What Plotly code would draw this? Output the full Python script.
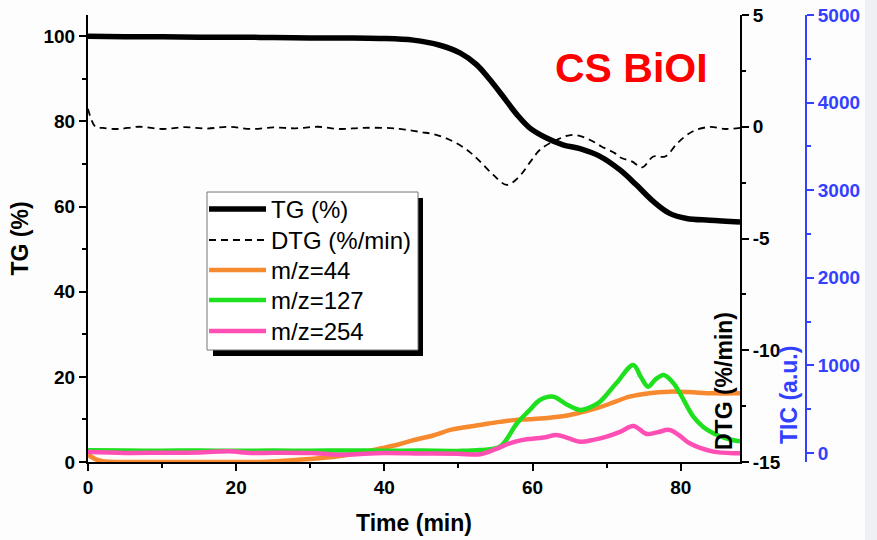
import plotly.graph_objects as go

# ---------------- data ----------------
t_tg = [0, 5, 10, 15, 20, 25, 30, 35, 39.4, 43.9, 47.5, 50.2, 52.4, 54.2, 56.0, 57.9, 59.6, 61.9,
        64.1, 66.4, 69.1, 71.8, 74.0, 76.3, 78.5, 80.8, 83.9, 88]
tg = [100, 99.9, 99.9, 99.8, 99.8, 99.7, 99.6, 99.6, 99.5, 99.1, 97.9, 96.1, 93.4, 89.9, 85.9, 81.6,
      78.5, 76.1, 74.5, 73.6, 71.8, 68.6, 65.1, 61.2, 58.4, 57.2, 56.8, 56.4]

t_dtg = [0, 1, 2, 4, 7, 10, 13, 16, 19, 22, 25, 28, 31, 34, 37, 40.8, 42.8, 45, 47, 49.3, 51.3,
         52.9, 54.7, 56.5, 58.0, 59.9, 61.0, 63.3, 65.5, 67.7, 69.3, 71.1, 72, 73.4, 74.8, 76.3,
         77.9, 79.6, 81.6, 83.9, 86, 88]
dtg = [0.8, 0.0, -0.05, -0.1, 0.0, -0.1, -0.02, -0.08, 0.0, -0.1, -0.03, -0.07, 0.0, -0.1, -0.05,
       -0.06, -0.13, -0.24, -0.36, -0.66, -1.07, -1.55, -2.15, -2.6, -2.3, -1.48, -1.03, -0.58,
       -0.36, -0.58, -0.88, -1.18, -1.4, -1.55, -1.82, -1.33, -1.33, -0.72, -0.21, -0.01, -0.1, -0.05]

t_44 = [0, 1, 2, 5, 10, 15, 20, 24, 28, 33, 36, 39.8, 42, 44, 46.6, 48.9, 51.1, 52.9, 55.6, 57.5,
        59.6, 62, 64.5, 66.4, 69, 71, 73.1, 75.5, 78.5, 81, 84.4, 87.5, 88]
tic_44 = [-20, -70, -95, -103, -103, -103, -103, -100, -80, -46, -10, 57, 100, 148, 200, 263, 297,
          320, 355, 375, 385, 400, 425, 460, 520, 580, 643, 680, 700, 695, 681, 681, 683]

t_127 = [0, 5, 10, 15, 20, 25, 30, 35, 40, 45, 50, 52.9, 55.6, 57.9, 59.5, 61, 62.8, 64.5, 66.4,
         68, 69.1, 71.3, 73.6, 74.6, 75.6, 76.6, 77.7, 79, 79.9, 81.7, 83, 84.4, 86, 87.5, 88]
tic_127 = [30, 28, 26, 28, 25, 27, 26, 28, 26, 27, 24, 34, 72, 339, 480, 605, 643, 560, 491, 530,
           586, 795, 1005, 870, 757, 840, 890, 800, 681, 414, 300, 225, 170, 140, 135]

t_254 = [0, 5, 10, 15, 19, 22, 25, 30, 34, 40, 45, 50, 52.9, 54.9, 56.9, 58.7, 60.5, 61.8, 63.2,
         64.8, 66.4, 68.2, 70, 71.8, 73.6, 75.4, 76.8, 78.5, 79.8, 81.2, 84.4, 87.5, 88]
tic_254 = [10, 0, 3, 5, 20, 0, 3, 0, -20, 0, -5, -8, -15, 40, 110, 150, 168, 180, 205, 170, 129,
           150, 186, 240, 308, 217, 235, 263, 200, 110, 15, -3, -3]

x_ticks = [0, 20, 40, 60, 80]
tg_ticks = [0, 20, 40, 60, 80, 100]
dtg_ticks = [5, 0, -5, -10, -15]
tic_ticks = [0, 1000, 2000, 3000, 4000, 5000]

series_names = ["TG (%)", "DTG (%/min)", "m/z=44", "m/z=127", "m/z=254"]
series_colors = ["black", "black", "#f7892f", "#1ee01e", "#ff4fb5"]

# ---------------- layout constants ----------------
W, H = 877, 540
ML, MR, MT, MB = 88, 60, 15, 78
PW = W - ML - MR
PH = H - MT - MB
def px(x):
    return (x - ML) / PW
def py(y):
    return (H - MB - y) / PH

FONT = "Liberation Sans, Arial, sans-serif"
BLUE = "#3341ff"

fig = go.Figure()
fig.add_trace(go.Scatter(x=t_tg, y=tg, name=series_names[0], mode="lines",
                         line=dict(color=series_colors[0], width=5.5, shape="spline"), yaxis="y"))
fig.add_trace(go.Scatter(x=t_dtg, y=dtg, name=series_names[1], mode="lines",
                         line=dict(color=series_colors[1], width=1.8, dash="7px,5px", shape="spline"), yaxis="y2"))
fig.add_trace(go.Scatter(x=t_44, y=tic_44, name=series_names[2], mode="lines",
                         line=dict(color=series_colors[2], width=4.5, shape="spline"), yaxis="y3"))
fig.add_trace(go.Scatter(x=t_127, y=tic_127, name=series_names[3], mode="lines",
                         line=dict(color=series_colors[3], width=4.5, shape="spline"), yaxis="y3"))
fig.add_trace(go.Scatter(x=t_254, y=tic_254, name=series_names[4], mode="lines",
                         line=dict(color=series_colors[4], width=4.5, shape="spline"), yaxis="y3"))

tickfont = dict(family=FONT, size=19, color="black", weight=700)
titlefont = dict(family=FONT, size=23, color="black", weight=700)

# ---- legend box (drawn as shapes + text) ----
LX0, LX1, LY0, LY1 = 207, 418, 192, 350
shapes = [
    dict(type="rect", xref="paper", yref="paper", x0=px(LX0 + 6), x1=px(LX1 + 5), y0=py(LY1 + 6), y1=py(LY0 + 6),
         fillcolor="black", line=dict(width=0), layer="above"),
    dict(type="rect", xref="paper", yref="paper", x0=px(LX0), x1=px(LX1), y0=py(LY1), y1=py(LY0),
         fillcolor="white", line=dict(width=1, color="#777"), layer="above"),
    dict(type="rect", xref="paper", yref="paper", x0=px(865), x1=px(877), y0=py(540), y1=py(0),
         fillcolor="#eef0f5", line=dict(width=0), layer="below"),
]
annotations = []
row_y = [209, 240, 270, 300, 331]
leg_width = [5.5, 2, 4.5, 4.5, 4.5]
for i, name in enumerate(series_names):
    shapes.append(dict(type="line", xref="paper", yref="paper", x0=px(209), x1=px(266),
                       y0=py(row_y[i]), y1=py(row_y[i]),
                       line=dict(color=series_colors[i], width=leg_width[i],
                                 dash="7px,5px" if i == 1 else "solid"),
                       layer="above"))
    annotations.append(dict(text=name, x=px(269), y=py(row_y[i]), xref="paper", yref="paper",
                            xanchor="left", yanchor="middle", showarrow=False,
                            font=dict(family=FONT, size=24, color="black")))

annotations += [
    dict(text="CS BiOI", x=px(631), y=py(68), xref="paper", yref="paper", showarrow=False,
         xanchor="center", yanchor="middle",
         font=dict(family=FONT, size=41, color="#ff0000", weight=700)),
    dict(text="DTG (%/min)", x=px(724), y=py(381), xref="paper", yref="paper", showarrow=False,
         xanchor="center", yanchor="middle", textangle=-90, font=titlefont),
    dict(text="TIC (a.u.)", x=px(789), y=py(395), xref="paper", yref="paper", showarrow=False,
         xanchor="center", yanchor="middle", textangle=-90,
         font=dict(family=FONT, size=23, color=BLUE, weight=700)),
]

fig.update_layout(
    width=W, height=H,
    margin=dict(l=ML, r=MR, t=MT, b=MB, autoexpand=False),
    paper_bgcolor="#fdfdfd", plot_bgcolor="rgba(0,0,0,0)",
    font=dict(family=FONT, color="black"),
    showlegend=False,
    xaxis=dict(domain=[0, (740 - ML) / PW], range=[0, 88], showgrid=False, zeroline=False, automargin=False,
               showline=True, linecolor="black", linewidth=2, ticks="outside", ticklen=7, tickwidth=2,
               tickcolor="black", tickvals=x_ticks, tickfont=tickfont,
               minor=dict(ticks="outside", ticklen=4, tickwidth=2, tickcolor="black", dtick=10, tick0=0),
               title=dict(text="Time (min)", font=titlefont, standoff=18)),
    xaxis2=dict(overlaying="x", side="top", range=[0, 88], showgrid=False, zeroline=False, automargin=False,
                showline=True, linecolor="black", linewidth=2, ticks="inside", ticklen=7, tickwidth=2,
                tickcolor="black", tickvals=x_ticks, showticklabels=False,
                minor=dict(ticks="inside", ticklen=4, tickwidth=2, tickcolor="black", dtick=10, tick0=0)),
    yaxis=dict(range=[0, 105], showgrid=False, zeroline=False, showline=True, linecolor="black", linewidth=2,
               automargin=False,
               ticks="outside", ticklen=7, tickwidth=2, tickcolor="black", tickvals=tg_ticks, tickfont=tickfont,
               minor=dict(ticks="outside", ticklen=4, tickwidth=2, tickcolor="black", dtick=10, tick0=0),
               title=dict(text="TG (%)", font=titlefont, standoff=8)),
    yaxis2=dict(overlaying="y", side="right", anchor="x", range=[-15, 5], showgrid=False, zeroline=False,
                automargin=False,
                showline=True, linecolor="black", linewidth=2, ticks="outside", ticklen=7, tickwidth=2,
                tickcolor="black", tickvals=dtg_ticks, ticktext=[str(v) for v in dtg_ticks], tickfont=tickfont,
                minor=dict(ticks="outside", ticklen=4, tickwidth=2, tickcolor="black", dtick=2.5, tick0=0)),
    yaxis3=dict(overlaying="y", side="right", anchor="free", position=px(806), range=[-103, 5000],
                automargin=False,
                showgrid=False, zeroline=False, showline=True, linecolor=BLUE, linewidth=2,
                ticks="outside", ticklen=7, tickwidth=2, tickcolor=BLUE, tickvals=tic_ticks,
                tickfont=dict(family=FONT, size=19, color=BLUE, weight=700),
                minor=dict(ticks="outside", ticklen=4, tickwidth=2, tickcolor=BLUE, dtick=500, tick0=0)),
    shapes=shapes,
    annotations=annotations,
)

fig.write_html("out.html")
